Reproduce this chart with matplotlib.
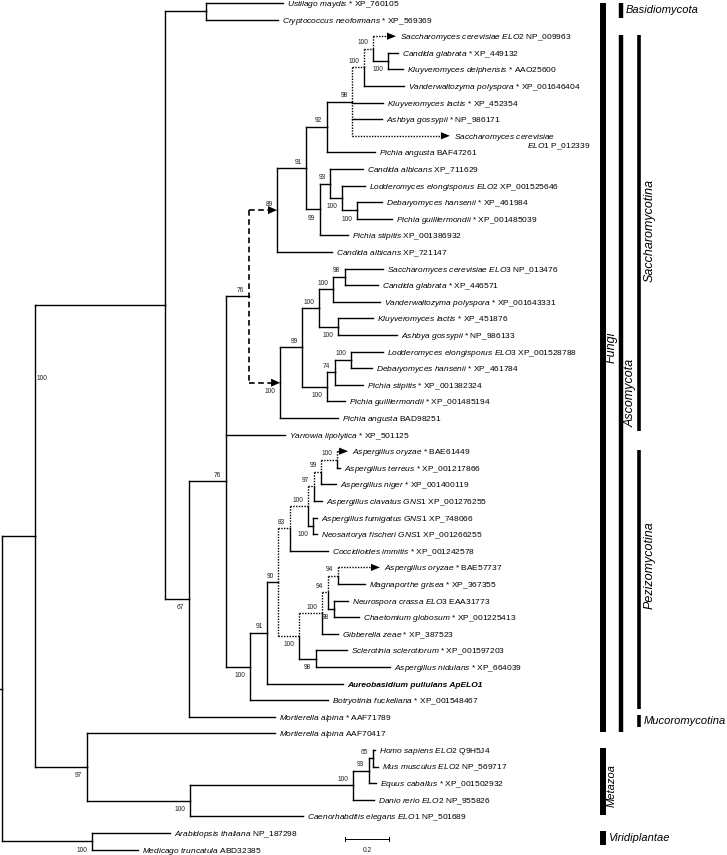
import matplotlib
matplotlib.use("Agg")
import matplotlib.pyplot as plt
from matplotlib.patches import Polygon

plt.rcParams['font.family'] = ['Liberation Sans', 'DejaVu Sans']
plt.rcParams['mathtext.fontset'] = 'custom'
plt.rcParams['mathtext.it'] = 'Liberation Sans:italic'
plt.rcParams['mathtext.rm'] = 'Liberation Sans'

# ---------------- tips, top to bottom ----------------
tip_species = [
    'Ustilago maydis', 'Cryptococcus neoformans', 'Saccharomyces cerevisiae ELO2',
    'Candida glabrata', 'Kluyveromyces delphensis', 'Vanderwaltozyma polyspora',
    'Kluyveromyces lactis', 'Ashbya gossypii', 'Saccharomyces cerevisiae',
    'Pichia angusta', 'Candida albicans', 'Lodderomyces elongisporus ELO2',
    'Debaryomyces hansenii', 'Pichia guilliermondii', 'Pichia stipitis',
    'Candida albicans', 'Saccharomyces cerevisiae ELO3', 'Candida glabrata',
    'Vanderwaltozyma polyspora', 'Kluyveromyces lactis', 'Ashbya gossypii',
    'Lodderomyces elongisporus ELO3', 'Debaryomyces hansenii', 'Pichia stipitis',
    'Pichia guilliermondii', 'Pichia angusta', 'Yarrowia lipolytica',
    'Aspergillus oryzae', 'Aspergillus terreus', 'Aspergillus niger',
    'Aspergillus clavatus GNS1', 'Aspergillus fumigatus GNS1', 'Neosartorya fischeri GNS1',
    'Coccidioides immitis', 'Aspergillus oryzae', 'Magnaporthe grisea',
    'Neurospora crassa ELO3', 'Chaetomium globosum', 'Gibberella zeae',
    'Sclerotinia sclerotiorum', 'Aspergillus nidulans', 'Aureobasidium pullulans ApELO1',
    'Botryotinia fuckeliana', 'Mortierella alpina', 'Mortierella alpina',
    'Homo sapiens ELO2', 'Mus musculus ELO2', 'Equus caballus',
    'Danio rerio ELO2', 'Caenorhabditis elegans ELO1', 'Arabidopsis thaliana',
    'Medicago truncatula']
tip_accession = [
    ' * XP_760105', ' * XP_569369', ' NP_009963', ' * XP_449132', ' * AAO25600',
    ' * XP_001646404', ' * XP_452354', ' * NP_986171', '', ' BAF47261',
    ' XP_711629', ' XP_001525646', ' * XP_461984', ' * XP_001485039', ' XP_001386932',
    ' XP_721147', ' NP_013476', ' * XP_446571', ' * XP_001643331', ' * XP_451876',
    ' * NP_986133', ' XP_001528788', ' * XP_461784', ' * XP_001382324', ' * XP_001485194',
    ' BAD98251', ' * XP_501125', ' * BAE61449', ' * XP_001217866', ' * XP_001400119',
    ' XP_001276255', ' XP_748066', ' XP_001266255', ' * XP_001242578', ' * BAE57737',
    ' * XP_367355', ' EAA31773', ' * XP_001225413', ' * XP_387523', ' * XP_001597203',
    ' * XP_664039', '', ' * XP_001548467', ' * AAF71789', ' AAF70417',
    ' Q9H5J4', ' NP_569717', ' * XP_001502932', ' NP_955826', ' NP_501689',
    ' NP_187298', ' ABD32385']
# distance from root (substitutions per site) where each tip ends
tip_depth = [
    1.277, 1.255, 1.791, 1.800, 1.823, 1.827, 1.732, 1.727, 2.036, 1.695,
    1.641, 1.650, 1.727, 1.773, 1.573, 1.500, 1.732, 1.709, 1.718, 1.686,
    1.795, 1.732, 1.682, 1.641, 1.559, 1.527, 1.286, 1.573, 1.536, 1.518,
    1.455, 1.432, 1.432, 1.482, 1.718, 1.650, 1.573, 1.623, 1.527, 1.568,
    1.764, 1.550, 1.482, 1.241, 1.241, 1.695, 1.709, 1.700, 1.691, 1.368,
    0.764, 0.618]
bold_tip = 41
second_line_tip = 8
second_line = ('ELO1', ' P_012339')

# ---------------- internal nodes ----------------
node_ids = ['root', 'N35', 'Viri', 'Fungi', 'X', 'Basidio', 'N189', 'AscN', 'S', 'T',
            'F', 'E', 'D', 'C', 'B', 'A', 'G', 'H2', 'J', 'K',
            'U', 'V', 'W', 'Z', 'R', 'Q', 'Y', 'L', 'M', 'P',
            'Pa', 'Pb', 'Pc', 'Pe', 'Pf', 'Ph', 'Pi', 'Pg', 'Pd', 'Pj',
            'Pl', 'Pm', 'Pn', 'Pk', 'Met', 'HMED', 'HME', 'HM']
node_children = [
    ['N35', 'Viri'], ['Fungi', 'X'], [50, 51], ['Basidio', 'N189'], [44, 'Met'],
    [0, 1], ['AscN', 43], ['S', 26, 'P'], ['T', 'U'], ['F', 15],
    ['E', 'G'], ['D', 9], ['C', 6, 7, 8], ['B', 5], [2, 'A'], [3, 4],
    ['H2', 14], [10, 'J'], [11, 'K'], [12, 13],
    ['V', 25], ['W', 'Y'], ['Z', 'Q'], ['R', 18], [16, 17], [19, 20],
    ['L', 24], ['M', 23], [21, 22], ['Pa', 42],
    ['Pb', 41], ['Pc', 'Pd'], ['Pe', 33], ['Pf', 'Pg'], ['Ph', 30], ['Pi', 29],
    [27, 28], [31, 32], ['Pj', 'Pk'], ['Pl', 38],
    ['Pm', 'Pn'], [34, 35], [36, 37], [39, 40], ['HMED', 49], ['HME', 48],
    ['HM', 47], [45, 46]]
node_depth = [
    0.000, 0.150, 0.409, 0.741, 0.386, 0.927, 0.850, 1.018, 1.123, 1.250,
    1.382, 1.477, 1.591, 1.645, 1.686, 1.755, 1.445, 1.491, 1.545, 1.614,
    1.264, 1.364, 1.441, 1.505, 1.559, 1.527, 1.477, 1.514, 1.586, 1.127,
    1.205, 1.255, 1.309, 1.391, 1.418, 1.450, 1.523, 1.414, 1.350, 1.455,
    1.482, 1.527, 1.509, 1.427, 0.855, 1.595, 1.668, 1.686]
node_support = [
    '', '100', '100', '', '97', '', '67', '76', '76', '89',
    '91', '92', '98', '100', '100', '100', '99', '93', '100', '100',
    '100', '99', '100', '100', '98', '100', '100', '74', '100', '100',
    '91', '90', '83', '100', '97', '99', '100', '100', '100', '100',
    '94', '94', '98', '98', '100', '100', '93', '65']
support_below = [
    False, False, True, False, True, False, True, False, False, False,
    False, False, False, False, False, True, True, False, True, True,
    True, False, False, False, False, True, True, False, False, True,
    False, False, False, False, False, False, False, True, True, False,
    False, False, True, True, True, False, False, False]

# duplicated genes traced with dotted branches (tip -> ancestor where path starts)
dotted_tips = [2, 8, 27, 34]
dotted_start = ['D', 'D', 'Pb', 'Pb']
dashed_node = 'S'

# scale bar
scale_length = 0.2
scale_label = '0.2'

# clade bars on the right
group_names = ['Fungi', 'Basidiomycota', 'Ascomycota', 'Saccharomycotina',
               'Pezizomycotina', 'Mucoromycotina', 'Metazoa', 'Viridiplantae']
group_rows = [(0.0, 43.9), (0.0, 0.9), (1.93, 43.9), (1.93, 25.8),
              (26.9, 42.5), (42.9, 43.6), (44.9, 48.9), (49.9, 50.7)]
group_level = [0, 1, 1, 2, 2, 2, 0, 0]
group_rotated = [True, False, True, True, True, False, True, False]

# ---------------- layout ----------------
PX = 1 / 220.0   # tree units per pixel
PY = 1 / 16.6    # rows per pixel


def px_x(p):
    return (p - 2) * PX


def px_y(p):
    return (p - 3) * PY


children = dict(zip(node_ids, node_children))
depth = dict(zip(node_ids, node_depth))
node_y = {}


def ypos(c):
    if isinstance(c, int):
        return float(c)
    if c not in node_y:
        ch = children[c]
        node_y[c] = (ypos(ch[0]) + ypos(ch[-1])) / 2.0
    return node_y[c]


def xpos(c):
    return tip_depth[c] if isinstance(c, int) else depth[c]


ypos('root')
parent = {}
for n in node_ids:
    for c in children[n]:
        parent[c] = n

on_path = set()
for t, start in zip(dotted_tips, dotted_start):
    c = t
    while c != start:
        on_path.add(c)
        c = parent[c]

fig = plt.figure(figsize=(7.27, 8.55), dpi=100)
ax = fig.add_axes([0, 0, 1, 1])
ax.set_xlim(px_x(0), px_x(727))
ax.set_ylim(px_y(855), px_y(0))
ax.axis('off')

LW = 1.0
solid = dict(color='black', lw=LW, solid_capstyle='projecting')
dotted = dict(color='black', lw=LW, linestyle=(0, (1, 1.0)))
dashed = dict(color='black', lw=1.2, linestyle=(0, (3.4, 2.1)))


def arrow(xt, y, length, half):
    ax.add_patch(Polygon([(xt, y), (xt - length * PX, y - half * PY),
                          (xt - length * PX, y + half * PY)],
                         closed=True, color='black', lw=0))


for n in node_ids:
    x = depth[n]
    ch = children[n]
    yn = node_y[n]
    y0, y1 = ypos(ch[0]), ypos(ch[-1])
    if n == dashed_node:
        ax.plot([x, x], [y0, y1], **dashed)
    else:
        ax.plot([x, x], [y0, yn], **(dotted if ch[0] in on_path else solid))
        ax.plot([x, x], [yn, y1], **(dotted if ch[-1] in on_path else solid))
    for c in ch:
        xc, yc = xpos(c), ypos(c)
        if n == dashed_node:
            ax.plot([x, xc - 7 * PX], [yc, yc], **dashed)
            arrow(xc, yc, 9, 4)
        elif isinstance(c, int) and c in dotted_tips:
            ax.plot([x, xc - 8 * PX], [yc, yc], **dotted)
            arrow(xc, yc, 9, 3.6)
        else:
            ax.plot([x, xc], [yc, yc], **(dotted if c in on_path else solid))

# root stem
ax.plot([px_x(0), 0], [node_y['root']] * 2, **solid)

# bootstrap values
for n, s, below in zip(node_ids, node_support, support_below):
    if not s:
        continue
    if n == 'N35':
        # this value sits beside the node's vertical line
        ax.text(depth[n] + 1.5 * PX, px_y(378), s, fontsize=4.8, ha='left',
                va='center', color='#222222')
        continue
    yy = node_y[n] + (8.7 if below else -6.0) * PY
    ax.text(depth[n] - 4.5 * PX, yy, s, fontsize=4.8, ha='right', va='center',
            color='#222222')

# tip labels
for i, (sp, acc) in enumerate(zip(tip_species, tip_accession)):
    x = tip_depth[i] + 4 * PX
    y = i + 1.5 * PY
    if i == bold_tip:
        ax.text(x, y, sp, fontsize=6, fontweight='bold', fontstyle='italic',
                ha='left', va='center')
        continue
    label = r'$\mathit{' + sp.replace(' ', r'\ ') + '}$' + acc
    ax.text(x, y, label, fontsize=6, ha='left', va='center')
    if i == second_line_tip:
        lab2 = r'$\mathit{' + second_line[0] + '}$' + second_line[1]
        ax.text(tip_depth[i] + 77 * PX, y + 9.5 * PY, lab2, fontsize=6,
                ha='left', va='center')

# scale bar
sb_x = px_x(345)
sb_y = px_y(839)
ax.plot([sb_x, sb_x + scale_length], [sb_y, sb_y], color='black', lw=0.7)
for xx in (sb_x, sb_x + scale_length):
    ax.plot([xx, xx], [sb_y - 2 * PY, sb_y + 2 * PY], color='black', lw=0.7)
ax.text(sb_x + scale_length / 2, sb_y + 11 * PY, scale_label, fontsize=4.8,
        ha='center', va='center', color='#222222')

# clade bars
bar_px = [603, 621, 639]
bar_lw = [4.3, 3.2, 2.6]
rot_label_px = [612, 631, 650]
rot_label_row = {'Fungi': px_y(347), 'Ascomycota': px_y(393),
                 'Saccharomycotina': px_y(230), 'Pezizomycotina': px_y(565),
                 'Metazoa': px_y(785)}
rot_label_size = {'Fungi': 9, 'Ascomycota': 9, 'Saccharomycotina': 9,
                  'Pezizomycotina': 9, 'Metazoa': 8}
for name, (r0, r1), lev, rot in zip(group_names, group_rows, group_level, group_rotated):
    bx = px_x(bar_px[lev])
    ax.plot([bx, bx], [r0, r1], color='black', lw=bar_lw[lev], solid_capstyle='butt')
    if rot:
        ax.text(px_x(rot_label_px[lev]), rot_label_row[name], name, rotation=90,
                fontsize=rot_label_size[name], fontstyle='italic',
                ha='center', va='center')
    else:
        ax.text(bx + 5 * PX, (r0 + r1) / 2, name, fontsize=8, fontstyle='italic',
                ha='left', va='center')

fig.savefig('out.png', dpi=100)
